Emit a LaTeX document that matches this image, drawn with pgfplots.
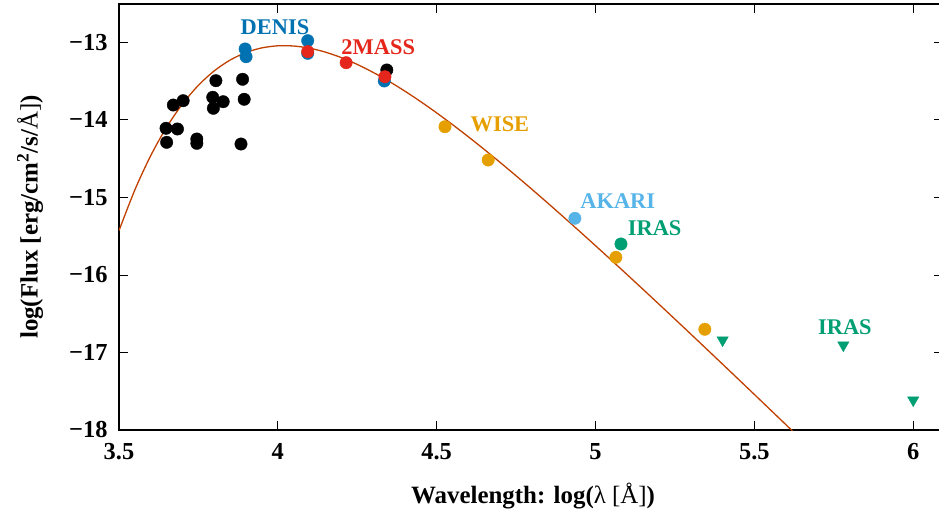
\documentclass[border=0pt]{standalone}
\usepackage{pgfplots}
\pgfplotsset{compat=1.18}
\usepackage{fontspec}
\setmainfont{Liberation Serif}

\definecolor{denis}{HTML}{0072B2}
\definecolor{twomass}{HTML}{E4261C}
\definecolor{wise}{HTML}{E69F00}
\definecolor{akari}{HTML}{56B4E9}
\definecolor{iras}{HTML}{009E73}
\definecolor{bbfit}{HTML}{C04000}

\newcommand{\labfont}{\fontsize{22.5}{26}\selectfont\bfseries}

\begin{document}
\begin{tikzpicture}
\begin{axis}[
    scale only axis,
    width=824bp, height=426bp,
    xmin=3.5, xmax=6.0937,
    ymin=-18, ymax=-12.506,
    xtick={3.5,4,4.5,5,5.5,6},
    xticklabels={3.5,4,4.5,5,5.5,6},
    ytick={-18,-17,-16,-15,-14,-13},
    yticklabels={−18,−17,−16,−15,−14,−13},
    tick align=inside, tick pos=both,
    major tick length=9bp,
    axis line style={line width=1.6bp},
    every tick/.style={black, line width=0.8bp},
    ticklabel style={font=\fontsize{24.5}{28}\selectfont\bfseries},
    xticklabel style={yshift=-10bp},
    yticklabel style={xshift=-8bp},
    xlabel={Wavelength: log({\mdseries λ [Å]})},
    ylabel={log(Flux [erg/cm\textsuperscript{2}/s/{\mdseries Å]})},
    xlabel style={at={(axis description cs:0.5025,-0.1737)}, anchor=base,
        font=\fontsize{25}{30}\selectfont\bfseries},
    ylabel style={at={(axis description cs:-0.1080,0.5)}, anchor=center,
        font=\fontsize{25}{30}\selectfont\bfseries},
]
% blackbody fit
\addplot[bbfit, line width=1.3bp, smooth, no marks] table {
3.50 -15.4286
3.55 -14.9024
3.60 -14.4605
3.65 -14.0939
3.70 -13.7942
3.75 -13.5544
3.80 -13.3678
3.85 -13.2285
3.90 -13.1314
3.95 -13.0716
4.00 -13.0450
4.05 -13.0478
4.10 -13.0762
4.15 -13.1271
4.20 -13.1977
4.25 -13.2855
4.30 -13.3881
4.35 -13.5036
4.40 -13.6301
4.45 -13.7662
4.50 -13.9106
4.55 -14.0621
4.60 -14.2197
4.65 -14.3828
4.70 -14.5503
4.75 -14.7219
4.80 -14.8969
4.85 -15.0749
4.90 -15.2557
4.95 -15.4386
5.00 -15.6236
5.05 -15.8102
5.10 -15.9986
5.15 -16.1882
5.20 -16.3789
5.25 -16.5708
5.30 -16.7636
5.35 -16.9573
5.40 -17.1515
5.45 -17.3464
5.50 -17.5420
5.55 -17.7381
5.60 -17.9345
5.65 -18.1313
};
% optical photometry
\addplot[only marks, mark=*, mark size=6.2bp, black] table {
3.671 -13.809
3.702 -13.753
3.805 -13.495
3.889 -13.477
3.795 -13.709
3.828 -13.766
3.797 -13.851
3.894 -13.735
3.648 -14.109
3.684 -14.118
3.650 -14.290
3.745 -14.247
3.745 -14.303
3.884 -14.312
4.343 -13.357
};
% DENIS
\addplot[only marks, mark=*, mark size=6.2bp, denis] table {
3.897 -13.086
3.900 -13.186
4.094 -12.979
4.094 -13.142
4.335 -13.499
};
% 2MASS
\addplot[only marks, mark=*, mark size=6.2bp, twomass] table {
4.094 -13.120
4.215 -13.263
4.337 -13.444
};
% AKARI
\addplot[only marks, mark=*, mark size=6.2bp, akari] table {
4.935 -15.270
};
% IRAS
\addplot[only marks, mark=*, mark size=6.2bp, iras] table {
5.080 -15.601
};
% WISE
\addplot[only marks, mark=*, mark size=6.2bp, wise] table {
4.526 -14.089
4.662 -14.518
5.064 -15.773
5.344 -16.701
};
% IRAS upper limits
\addplot[only marks, mark=triangle*, mark size=6.5bp, iras,
    mark options={rotate=180}] table {
5.400 -16.841
5.780 -16.906
6.000 -17.615
};
\node[font=\labfont, text=denis, inner sep=0pt] at (axis cs:3.991,-12.807) {DENIS};
\node[font=\labfont, text=twomass, inner sep=0pt] at (axis cs:4.316,-13.065) {2MASS};
\node[font=\labfont, text=wise, inner sep=0pt] at (axis cs:4.699,-14.063) {WISE};
\node[font=\labfont, text=akari, inner sep=0pt] at (axis cs:5.070,-15.051) {AKARI};
\node[font=\labfont, text=iras, inner sep=0pt] at (axis cs:5.186,-15.395) {IRAS};
\node[font=\labfont, text=iras, inner sep=0pt] at (axis cs:5.785,-16.668) {IRAS};
\end{axis}
\pgfresetboundingbox
\path (-119bp,-86bp) rectangle (820bp,430bp);
\end{tikzpicture}
\end{document}
